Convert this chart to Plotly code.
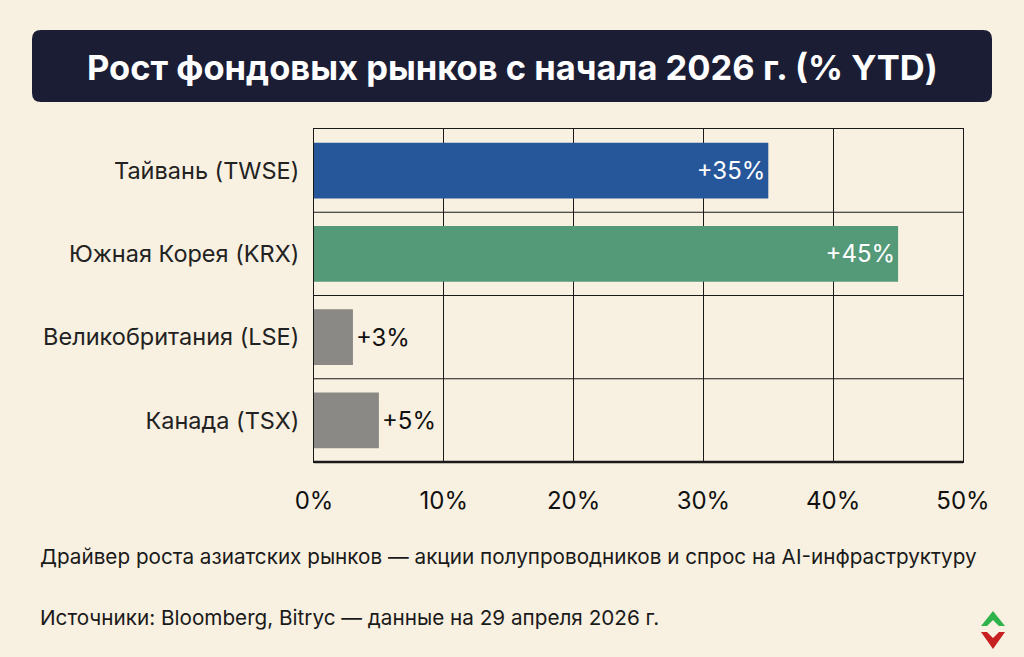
import plotly.graph_objects as go

categories = ["Тайвань (TWSE)", "Южная Корея (KRX)", "Великобритания (LSE)", "Канада (TSX)"]
values = [35, 45, 3, 5]
labels = ["+35%", "+45%", "+3%", "+5%"]
colors = ["#26579A", "#559A78", "#8A8986", "#8A8986"]
text_pos = ["inside", "inside", "outside", "outside"]
text_colors = ["white", "white", "#111111", "#111111"]
tick_vals = [0, 10, 20, 30, 40, 50]
tick_text = ["0%", "10%", "20%", "30%", "40%", "50%"]

title = "Рост фондовых рынков с начала 2026 г. (% YTD)"
note1 = "Драйвер роста азиатских рынков — акции полупроводников и спрос на AI-инфраструктуру"
note2 = "Источники: Bloomberg, Bitryc — данные на 29 апреля 2026 г."

W, H = 1024, 657
L, R, T, B = 314, 963, 129, 462
BG = "#F8F0E0"
FONT = "Inter, Roboto, sans-serif"

def px(x):
    return (x - L) / (R - L)

def py(y):
    return (B - y) / (B - T)

fig = go.Figure()
fig.add_trace(go.Bar(
    y=categories, x=values, orientation="h",
    marker=dict(color=colors, line=dict(width=0)),
    text=labels, textposition=text_pos,
    insidetextanchor="end",
    textfont=dict(size=24, color=text_colors, family=FONT),
    outsidetextfont=dict(size=24, color="#111111", family=FONT),
    insidetextfont=dict(size=24, color="white", family=FONT),
    width=0.67, cliponaxis=False,
    hoverinfo="skip",
))

# rounded title box
x0, x1, y0, y1 = px(32), px(992), py(102), py(30)
rx, ry = 9 / (R - L), 9 / (B - T)
path = (f"M {x0+rx},{y0} L {x1-rx},{y0} Q {x1},{y0} {x1},{y0+ry} "
        f"L {x1},{y1-ry} Q {x1},{y1} {x1-rx},{y1} L {x0+rx},{y1} "
        f"Q {x0},{y1} {x0},{y1-ry} L {x0},{y0+ry} Q {x0},{y0} {x0+rx},{y0} Z")
shapes = [dict(type="path", path=path, xref="paper", yref="paper",
               fillcolor="#1B1D35", line=dict(width=0), layer="below")]

# logo: green up chevron + red down chevron
g = (f"M {px(993)},{py(611)} L {px(1005)},{py(626)} L {px(999)},{py(626)} "
     f"L {px(993)},{py(620)} L {px(987)},{py(626)} L {px(981)},{py(626)} Z")
r = (f"M {px(981)},{py(632)} L {px(987)},{py(632)} L {px(993)},{py(638)} "
     f"L {px(999)},{py(632)} L {px(1005)},{py(632)} L {px(993)},{py(649)} Z")
shapes.append(dict(type="path", path=g, xref="paper", yref="paper",
                   fillcolor="#2DB34A", line=dict(width=0)))
shapes.append(dict(type="path", path=r, xref="paper", yref="paper",
                   fillcolor="#C62020", line=dict(width=0)))

annotations = [
    dict(text=f"<b>{title}</b>", x=px(512), y=py(67), xref="paper", yref="paper",
         showarrow=False, xanchor="center", yanchor="middle",
         font=dict(size=34.5, color="white", family=FONT)),
    dict(text=note1, x=px(38), y=py(556), xref="paper", yref="paper",
         showarrow=False, xanchor="left", yanchor="middle",
         font=dict(size=20.7, color="#1A1A1A", family=FONT)),
    dict(text=note2, x=px(38), y=py(617), xref="paper", yref="paper",
         showarrow=False, xanchor="left", yanchor="middle",
         font=dict(size=20.7, color="#1A1A1A", family=FONT)),
]

fig.update_layout(
    width=W, height=H,
    margin=dict(l=L, r=W - R, t=T, b=H - B, pad=0),
    paper_bgcolor=BG, plot_bgcolor=BG,
    showlegend=False,
    shapes=shapes, annotations=annotations,
    font=dict(family=FONT, color="#1A1A1A"),
    bargap=0.33,
)
fig.update_xaxes(range=[0, 50], tickvals=tick_vals, ticktext=tick_text,
                 showgrid=True, gridcolor="#1A1A1A", gridwidth=1,
                 showline=True, linecolor="#1A1A1A", linewidth=1, mirror=True,
                 zeroline=False, ticks="", ticklen=0, ticklabelstandoff=17,
                 tickfont=dict(size=24, color="#111111", family=FONT))
fig.update_yaxes(categoryorder="array", categoryarray=categories, autorange="reversed",
                 showgrid=False, showline=True, linecolor="#1A1A1A", linewidth=1, mirror=True,
                 ticks="", ticklabelstandoff=9,
                 tickfont=dict(size=23.5, color="#222222", family=FONT))

# horizontal separators between categories
for i in range(1, len(categories)):
    fig.add_shape(type="line", xref="paper", yref="y", x0=0, x1=1,
                  y0=i - 0.5, y1=i - 0.5, line=dict(color="#1A1A1A", width=1), layer="below")
fig.add_shape(type="line", xref="paper", yref="paper", x0=0, x1=1, y0=0, y1=0,
              line=dict(color="#1A1A1A", width=2.5))

fig.write_html("out.html")
